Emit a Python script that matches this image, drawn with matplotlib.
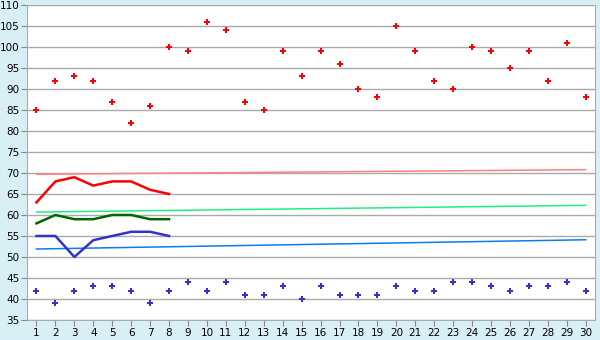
import numpy as np
import matplotlib
matplotlib.use("Agg")
import matplotlib.pyplot as plt

days = list(range(1, 31))
high_pts = [85, 92, 93, 92, 87, 82, 86, 100, 99, 106, 104, 87, 85, 99, 93,
            99, 96, 90, 88, 105, 99, 92, 90, 100, 99, 95, 99, 92, 101, 88]
low_pts = [42, 39, 42, 43, 43, 42, 39, 42, 44, 42, 44, 41, 41, 43, 40,
           43, 41, 41, 41, 43, 42, 42, 44, 44, 43, 42, 43, 43, 44, 42]

line_days = list(range(1, 9))
red_line = [63, 68, 69, 67, 68, 68, 66, 65]
green_line = [58, 60, 59, 59, 60, 60, 59, 59]
blue_line = [55, 55, 50, 54, 55, 56, 56, 55]

# trend lines (start, end)
trend_days = [1, 30]
pink_trend = [69.7, 70.8]
lime_trend = [60.7, 62.3]
sky_trend = [51.9, 54.1]

bg = '#d9eff6'
fig = plt.figure(figsize=(6, 3.4), dpi=100, facecolor=bg)
ax = fig.add_axes([0.045, 0.059, 0.947, 0.926])
ax.set_facecolor('white')

ax.plot(trend_days, pink_trend, color='#ff8080', lw=1.1)
ax.plot(trend_days, lime_trend, color='#22ee88', lw=1.1)
ax.plot(trend_days, sky_trend, color='#0a7cf0', lw=1.1)

ax.plot(line_days, red_line, color='#ff0000', lw=1.8)
ax.plot(line_days, green_line, color='#006600', lw=1.8)
ax.plot(line_days, blue_line, color='#3333cc', lw=1.8)

ax.plot(days, high_pts, 'P', color='#ff0000', ms=5, mew=0, ls='none')
ax.plot(days, low_pts, 'P', color='#3333cc', ms=5, mew=0, ls='none')

ax.set_xlim(0.5, 30.5)
ax.set_ylim(35, 110)
ax.set_xticks(days)
ax.set_yticks(np.arange(35, 111, 5))
ax.yaxis.grid(True, color='#aaaaaa', lw=1)
ax.set_axisbelow(True)
for s in ['left', 'bottom', 'right']:
    ax.spines[s].set_color('#aaaaaa')
ax.spines['top'].set_visible(False)
ax.tick_params(axis='both', labelsize=7.5, color='#888888', length=4, pad=1.5)

plt.savefig('out.png', dpi=100, facecolor=bg)
